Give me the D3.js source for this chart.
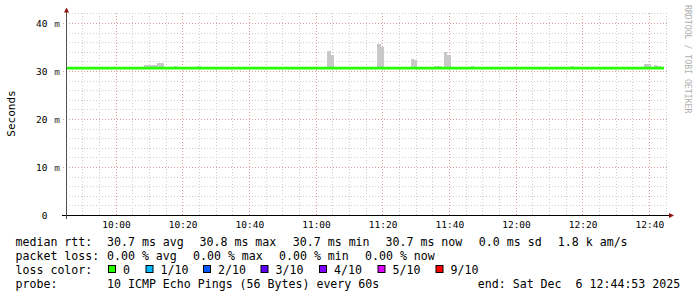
<!DOCTYPE html>
<html><head><meta charset="utf-8">
<script src="https://cdn.jsdelivr.net/npm/d3@7"></script>
<style>
html,body{margin:0;padding:0;background:#fff;}
svg{display:block;}
text{font-family:"DejaVu Sans Mono",monospace;white-space:pre;}
</style></head>
<body>
<svg id="chart" width="697" height="297"></svg>
<script>
// ---------------- data ----------------
const day = "2025-12-06";
const timeRange = ["09:45:00", "12:45:00"];
const yTicks = [0, 10, 20, 30, 40];
const yUnit = "m";
const xTickLabels = ["10:00","10:20","10:40","11:00","11:20","11:40","12:00","12:20","12:40"];
// median RTT (ms) – flat over the whole period
const medianTimes = ["09:45:00", "12:44:24"];
const medianValues = [30.7, 30.7];
// smoke (ping spread) – 1 minute bins, max ping in ms
const smokeTimes = ["10:08:24","10:09:24","10:10:24","10:11:24","10:12:24","10:13:24","10:17:24","10:24:24",
  "11:03:24","11:04:24","11:18:24","11:19:24","11:28:24","11:29:24","11:35:24","11:36:24",
  "11:38:24","11:39:24","11:46:24","12:16:24","12:38:24","12:39:24","12:41:24","12:42:24"];
const smokeMax = [31.35,31.4,31.4,31.4,31.8,31.8,31.15,31.15,
  34.3,33.5,35.7,35.0,32.6,32.4,31.15,31.15,
  34.05,33.4,31.15,31.15,31.55,31.55,31.35,31.15];
const smokeMin = 30.6;
const rttLabel = "median rtt:";
const rttStats = ["30.7 ms avg","30.8 ms max","30.7 ms min","30.7 ms now","0.0 ms sd","1.8 k am/s"];
const lossLabel = "packet loss:";
const lossStats = ["0.00 % avg","0.00 % max","0.00 % min","0.00 % now"];
const lossColorLabel = "loss color:";
const lossNames = ["0","1/10","2/10","3/10","4/10","5/10","9/10"];
const lossColors = ["#26ff00","#00b8ff","#0059ff","#5e00ff","#7e00ff","#dd00ff","#ff0000"];
const probeLabel = "probe:";
const probeText = "10 ICMP Echo Pings (56 Bytes) every 60s";
const endText = "end: Sat Dec  6 12:44:53 2025";
const yTitle = "Seconds";
const watermark = "RRDTOOL / TOBI OETIKER";

// ---------------- drawing ----------------
const parseT = s => new Date(day + "T" + s);
const svg = d3.select("#chart");
const x = d3.scaleTime().domain(timeRange.map(parseT)).range([66, 666]);
const y = d3.scaleLinear().domain([0, 42.1]).range([215.5, 13.4]);
const px = v => Math.floor(v) + 0.5;

// grid
const g = svg.append("g");
const minorY = d3.range(2, 42.1, 2).filter(v => v % 10 !== 0);
g.selectAll(".hmin").data(minorY).join("line")
  .attr("x1", 66).attr("x2", 668).attr("y1", d => px(y(d))).attr("y2", d => px(y(d)))
  .attr("stroke", "#cdcdcd").attr("stroke-dasharray", "1,2").attr("stroke-width", 1);
const allMin = d3.timeMinute.every(5).range(parseT("09:45:01"), parseT("12:45:01"));
const majT = xTickLabels.map(parseT);
g.selectAll(".vmin").data(allMin.filter(d => d.getMinutes() % 20 !== 0)).join("line")
  .attr("x1", d => px(x(d))).attr("x2", d => px(x(d))).attr("y1", 13).attr("y2", 215)
  .attr("stroke", "#cdcdcd").attr("stroke-dasharray", "1,2").attr("stroke-width", 1);
g.selectAll(".hmaj").data(yTicks.filter(v => v > 0)).join("line")
  .attr("x1", 63).attr("x2", 668).attr("y1", d => px(y(d))).attr("y2", d => px(y(d)))
  .attr("stroke", "#e49a9a").attr("stroke-dasharray", "1,2").attr("stroke-width", 1);
g.selectAll(".vmaj").data(majT).join("line")
  .attr("x1", d => px(x(d))).attr("x2", d => px(x(d))).attr("y1", 13).attr("y2", 215)
  .attr("stroke", "#e49a9a").attr("stroke-dasharray", "1,2").attr("stroke-width", 1);

// smoke
const smoke = smokeTimes.map((t, i) => ({t: parseT(t), v: smokeMax[i]}));
svg.append("g").selectAll("rect").data(smoke).join("rect")
  .attr("x", d => x(d.t)).attr("width", d => x(d3.timeMinute.offset(d.t, 1)) - x(d.t))
  .attr("y", d => y(d.v)).attr("height", d => y(smokeMin) - y(d.v))
  .attr("fill", "#c8c8c8").attr("shape-rendering", "crispEdges");

// median line
const med = medianTimes.map((t, i) => ({t: parseT(t), v: medianValues[i]}));
svg.append("path").datum(med)
  .attr("d", d3.line().x(d => x(d.t)).y(d => y(d.v)).curve(d3.curveStepAfter))
  .attr("fill", "none").attr("stroke", lossColors[0]).attr("stroke-width", 2.6);

// axes
svg.append("line").attr("x1", 62).attr("x2", 669).attr("y1", 215.5).attr("y2", 215.5)
  .attr("stroke", "#000").attr("stroke-width", 1);
svg.append("line").attr("x1", 66.5).attr("x2", 66.5).attr("y1", 219).attr("y2", 11)
  .attr("stroke", "#505050").attr("stroke-width", 1);
svg.append("path").attr("d", "M64,12.5 L69,12.5 L66.5,7.5 Z").attr("fill", "#901010");
svg.append("path").attr("d", "M669,213 L669,218 L674,215.5 Z").attr("fill", "#901010");

// y labels
const yl = svg.append("g").attr("font-size", "9.5px").attr("fill", "#000");
yl.selectAll(".yn").data(yTicks).join("text")
  .attr("x", 47.5).attr("y", d => y(d) + 3.5).attr("text-anchor", "end").text(d => d);
yl.selectAll(".yu").data(yTicks.filter(v => v > 0)).join("text")
  .attr("x", 54.3).attr("y", d => y(d) + 3.5).attr("fill", "#333").text(yUnit);

// x labels
svg.append("g").attr("font-size", "9.5px").selectAll("text").data(majT).join("text")
  .attr("x", d => x(d) + 0.5).attr("y", 228.3).attr("text-anchor", "middle").text((d, i) => xTickLabels[i]);

// titles
svg.append("text").attr("transform", "translate(14.5,113.5) rotate(-90)")
  .attr("text-anchor", "middle").attr("font-size", "11px").text(yTitle);
svg.append("text").attr("transform", "translate(684.5,5) rotate(90)")
  .attr("font-size", "8.2px").attr("fill", "#b0b0b0").text(watermark);

// legend
const lg = svg.append("g").attr("font-size", "11.6px").attr("fill", "#000");
const L1 = 245.5, L2 = 259.5, L3 = 273.5, L4 = 287.5;
lg.append("text").attr("x", 15.5).attr("y", L1).text(rttLabel);
const rttX = [107, 199.5, 292.8, 385.5, 478.8, 557.8];
rttStats.forEach((s, i) => lg.append("text").attr("x", rttX[i]).attr("y", L1).text(s));
lg.append("text").attr("x", 15.5).attr("y", L2).text(lossLabel);
const lossX = [107, 193, 279, 365];
lossStats.forEach((s, i) => lg.append("text").attr("x", lossX[i]).attr("y", L2).text(s));
lg.append("text").attr("x", 15.5).attr("y", L3).text(lossColorLabel);
const boxX = [108.5, 146, 203.5, 261, 319.5, 378, 436];
lossNames.forEach((s, i) => {
  lg.append("rect").attr("x", boxX[i]).attr("y", 265.5).attr("width", 7).attr("height", 7)
    .attr("fill", lossColors[i]).attr("stroke", "#000").attr("stroke-width", 1);
  lg.append("text").attr("x", boxX[i] + 14.5).attr("y", L3).text(s);
});
lg.append("text").attr("x", 15.5).attr("y", L4).text(probeLabel);
lg.append("text").attr("x", 107).attr("y", L4).text(probeText);
lg.append("text").attr("x", 477.8).attr("y", L4).text(endText);
</script>
</body></html>
